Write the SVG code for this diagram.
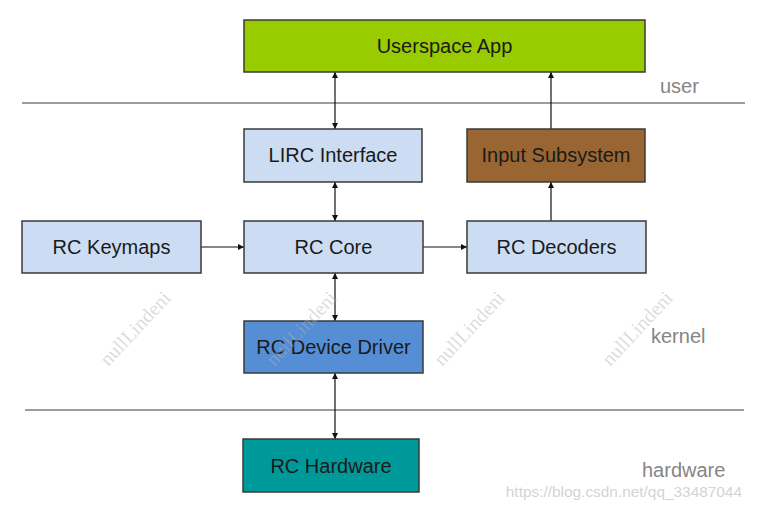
<svg xmlns="http://www.w3.org/2000/svg" width="763" height="509" viewBox="0 0 763 509">
<defs>
<style>
.box{stroke:#3a3a3a;stroke-width:1.5}
.lbl{font-family:"Liberation Sans",Arial,sans-serif;font-size:20px;fill:#1a1a1a;text-anchor:middle}
.lay{font-family:"Liberation Sans",Arial,sans-serif;font-size:20px;fill:#858585}
.sep{stroke:#3a3a3a;stroke-width:1}
.con{stroke:#111;stroke-width:1.2;fill:none}
.wm{font-family:"Liberation Serif","Times New Roman",serif;font-size:20px;fill:#b0b0b0;fill-opacity:0.45;text-anchor:middle}
</style>
<marker id="ah" viewBox="0 0 10 10" refX="10" refY="5" markerWidth="6" markerHeight="6" orient="auto-start-reverse" markerUnits="userSpaceOnUse">
<path d="M0,0 L10,5 L0,10 z" fill="#111"/>
</marker>
</defs>
<rect width="763" height="509" fill="#ffffff"/>
<line class="sep" x1="22" y1="103" x2="745" y2="103"/>
<line class="sep" x1="25" y1="410" x2="744" y2="410"/>
<g id="connectors">
<line class="con" x1="335" y1="72" x2="335" y2="129" marker-start="url(#ah)" marker-end="url(#ah)"/>
<line class="con" x1="551" y1="129" x2="551" y2="72" marker-end="url(#ah)"/>
<line class="con" x1="335" y1="182" x2="335" y2="221" marker-start="url(#ah)" marker-end="url(#ah)"/>
<line class="con" x1="551" y1="221" x2="551" y2="182" marker-end="url(#ah)"/>
<line class="con" x1="201" y1="247" x2="244" y2="247" marker-end="url(#ah)"/>
<line class="con" x1="423" y1="247" x2="467" y2="247" marker-end="url(#ah)"/>
<line class="con" x1="335" y1="273" x2="335" y2="321" marker-start="url(#ah)" marker-end="url(#ah)"/>
<line class="con" x1="335" y1="373" x2="335" y2="439" marker-start="url(#ah)" marker-end="url(#ah)"/>
</g>
<g id="userspace-app">
<rect class="box" x="244" y="20" width="401" height="52" fill="#99CC00"/>
<text class="lbl" x="444.5" y="53">Userspace App</text>
</g>
<g id="lirc-interface">
<rect class="box" x="244" y="129" width="178" height="53" fill="#CCDCF2"/>
<text class="lbl" x="333" y="162">LIRC Interface</text>
</g>
<g id="input-subsystem">
<rect class="box" x="467" y="129" width="178" height="53" fill="#996633"/>
<text class="lbl" x="556" y="162">Input Subsystem</text>
</g>
<g id="rc-keymaps">
<rect class="box" x="22" y="221" width="179" height="52" fill="#CCDCF2"/>
<text class="lbl" x="111.5" y="254">RC Keymaps</text>
</g>
<g id="rc-core">
<rect class="box" x="244" y="221" width="179" height="52" fill="#CCDCF2"/>
<text class="lbl" x="333.5" y="254">RC Core</text>
</g>
<g id="rc-decoders">
<rect class="box" x="467" y="221" width="179" height="52" fill="#CCDCF2"/>
<text class="lbl" x="556.5" y="254">RC Decoders</text>
</g>
<g id="rc-device-driver">
<rect class="box" x="244" y="321" width="179" height="52" fill="#558ED5"/>
<text class="lbl" x="333.5" y="354">RC Device Driver</text>
</g>
<g id="rc-hardware">
<rect class="box" x="243" y="439" width="176" height="53" fill="#009999"/>
<text class="lbl" x="331" y="473">RC Hardware</text>
</g>
<g id="layers">
<text class="lay" x="660" y="93">user</text>
<text class="lay" x="651" y="343">kernel</text>
<text class="lay" x="642" y="477">hardware</text>
</g>
<g id="wm">
<text class="wm" transform="translate(140,333) rotate(-47)">nullLindeni</text>
<text class="wm" transform="translate(306,333) rotate(-47)">nullLindeni</text>
<text class="wm" transform="translate(474,333) rotate(-47)">nullLindeni</text>
<text class="wm" transform="translate(642,333) rotate(-47)">nullLindeni</text>
</g>
<text x="742" y="497" text-anchor="end" style="font-family:'Liberation Sans',Arial,sans-serif;font-size:15.4px;fill:#d4d4d4">https://blog.csdn.net/qq_33487044</text>
</svg>
